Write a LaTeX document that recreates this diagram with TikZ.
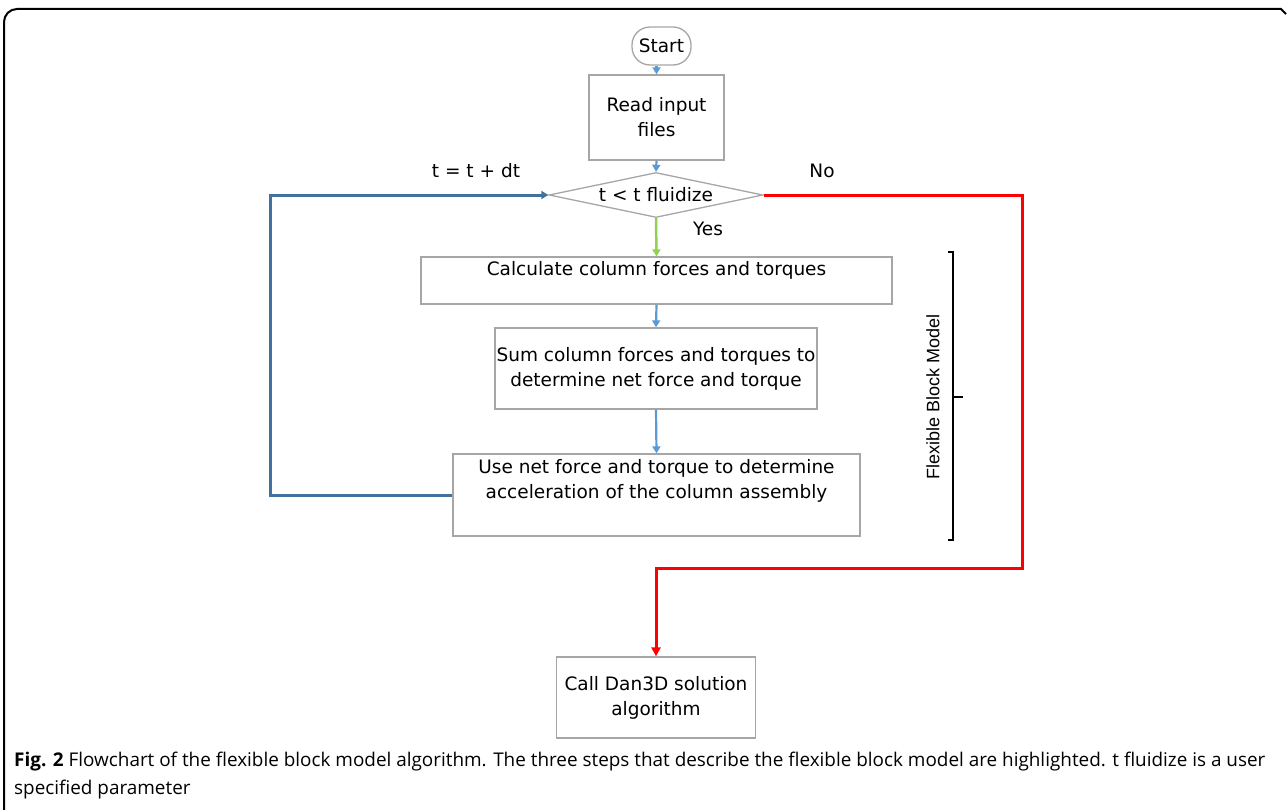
\documentclass[tikz,border=0pt]{standalone}
\usepackage{fontspec}
\setmainfont{DejaVu Sans}
\newfontfamily\capfont{Open Sans}
\newfontfamily\arialfont{Liberation Sans}
\usetikzlibrary{arrows.meta,shapes.geometric}
\definecolor{arrblue}{HTML}{5B9BD5}
\definecolor{loopblue}{HTML}{41719C}
\definecolor{yesgreen}{HTML}{92D050}
\definecolor{nored}{HTML}{FF0000}
\definecolor{boxgray}{HTML}{A6A6A6}
\tikzset{
  box/.style={draw=boxgray, line width=1.3bp, rectangle, inner sep=0pt, align=center, font=\fontsize{18.5bp}{25bp}\selectfont},
  txt/.style={inner sep=0pt, align=center, font=\fontsize{18.5bp}{25bp}\selectfont},
  flow/.style={draw=arrblue, line width=2.2bp, -{Triangle[width=8bp,length=7bp]}},
  yesflow/.style={draw=yesgreen, line width=2.5bp, -{Triangle[width=8bp,length=7bp]}},
  loopflow/.style={draw=loopblue, line width=3bp, -{Triangle[width=8bp,length=7bp]}},
  noflow/.style={draw=nored, line width=3bp, -{Triangle[width=9bp,length=9bp]}},
  lbl/.style={inner sep=0pt, font=\fontsize{18.5bp}{20bp}\selectfont},
}
\begin{document}
\begin{tikzpicture}[x=1bp,y=-1bp]
\useasboundingbox (0,0) rectangle (1287,810);
% frame
\draw[line width=2bp] (4,810) -- (4,22) arc[start angle=180, end angle=270, radius=13] -- (1281,9) -- (1286,14);

\node[box, rounded corners=18bp, minimum width=59bp, minimum height=38bp] (start) at (661.5,46) {Start};
\node[box, minimum width=135bp, minimum height=85bp] (read) at (656.5,117.5) {Read input\\files};
\node[box, shape=diamond, aspect=4.76, minimum width=214bp, minimum height=45bp] (dec) at (656,195) {t < t fluidize};
\node[box, minimum width=471bp, minimum height=47bp] (calc) at (656.5,280.5) {};
\node[txt] (calctxt) at (656.5,270) {Calculate column forces and torques};
\node[box, minimum width=322bp, minimum height=81bp] (sum) at (656,368.5) {Sum column forces and torques to\\determine net force and torque};
\node[box, minimum width=407bp, minimum height=82bp] (use) at (656.5,495) {};
\node[txt] (usetxt) at (656.5,481) {Use net force and torque to determine\\acceleration of the column assembly};
\node[box, minimum width=199bp, minimum height=81bp] (call) at (656,697.5) {Call Dan3D solution\\algorithm};

\draw[flow] (start.south -| read.north) -- (read.north);
\draw[flow] (read.south) -- (dec.north);
\draw[yesflow] (dec.south) -- (calc.north);
\draw[flow] (calc.south) -- (sum.north);
\draw[flow] (sum.south) -- (use.north);

\coordinate (loopc) at (270,495);
\draw[loopflow] (use.west) -- (loopc) |- (dec.west);
\coordinate (redc) at (1022,568);
\draw[noflow] (dec.east) -| (redc) -| (call.north);

\node[lbl] (tdt) at (476,171) {t = t + dt};
\node[lbl] (no) at (822,171) {No};
\node[lbl] (yes) at (708,229) {Yes};

% bracket
\coordinate (bt) at (953,252);
\coordinate (bb) at (953,540);
\coordinate (bm) at (953,397);
\draw[line width=2.5bp] ([xshift=-5bp]bt) -- (bt) -- (bb) -- ([xshift=-5bp]bb);
\draw[line width=2.5bp] (bm) -- ([xshift=10bp]bm);
\node[inner sep=0pt, rotate=90, font=\arialfont\fontsize{18bp}{20bp}\selectfont] (fbm) at (933,397) {Flexible Block Model};

% caption
\node[anchor=west, inner sep=0pt, font=\capfont\fontsize{18.9bp}{22bp}\selectfont] (cap1) at (14,762) {\textbf{Fig. 2} Flowchart of the flexible block model algorithm. The three steps that describe the flexible block model are highlighted. t fluidize is a user};
\node[anchor=west, inner sep=0pt, font=\capfont\fontsize{18.9bp}{22bp}\selectfont] (cap2) at (14,790) {specified parameter};
\end{tikzpicture}
\end{document}
